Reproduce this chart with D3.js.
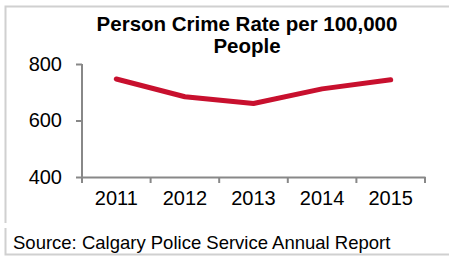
<!DOCTYPE html>
<html>
<head>
<meta charset="utf-8">
<script src="https://cdn.jsdelivr.net/npm/d3@7"></script>
<style>
  body { margin: 0; background: #fff; }
  svg { display: block; font-family: "Liberation Sans", Arial, sans-serif; }
</style>
</head>
<body>
<div id="chart"></div>
<script>
var years = ["2011", "2012", "2013", "2014", "2015"];
var rates = [747, 684, 660, 712, 744];
var yTicks = [400, 600, 800];
var titleLines = ["Person Crime Rate per 100,000", "People"];
var source = "Source: Calgary Police Service Annual Report";

var width = 449, height = 256;
var margin = { left: 82, right: 24, top: 64, bottom: 79 };

var svg = d3.select("#chart").append("svg").attr("width", width).attr("height", height);

// outer frame
svg.append("path")
    .attr("d", "M449,6.5H5.5V223")
    .attr("fill", "none").attr("stroke", "#d0d0d0").attr("stroke-width", 2);
svg.append("path")
    .attr("d", "M5.5,228V254.5H449")
    .attr("fill", "none").attr("stroke", "#d0d0d0").attr("stroke-width", 2);

var x = d3.scaleBand().domain(years).range([margin.left, width - margin.right]);
var y = d3.scaleLinear().domain([400, 800]).range([height - margin.bottom, margin.top]);

var yAxis = d3.axisLeft(y).tickValues(yTicks).tickSize(6).tickPadding(14);
var xAxis = d3.axisBottom(x).tickSize(0).tickPadding(14);

var gy = svg.append("g").attr("transform", "translate(" + margin.left + ",0)").call(yAxis);
var gx = svg.append("g").attr("transform", "translate(0," + (height - margin.bottom) + ")").call(xAxis);

[gx, gy].forEach(function(g) {
    g.select(".domain").attr("stroke", "#888").attr("stroke-width", 2);
    g.selectAll(".tick line").attr("stroke", "#888").attr("stroke-width", 2);
    g.selectAll("text").attr("font-size", 20).attr("fill", "#000")
        .attr("font-family", "'Liberation Sans', Arial, sans-serif");
});
gy.select(".domain").attr("d", "M0," + y(800) + "V" + y(400));

// x tick marks at band boundaries
var bounds = years.map(function(d) { return x(d); }).concat([x.range()[1]]);
gx.selectAll(".bound").data(bounds).enter().append("line")
    .attr("x1", function(d) { return d; }).attr("x2", function(d) { return d; })
    .attr("y1", 0).attr("y2", 6)
    .attr("stroke", "#888").attr("stroke-width", 2);

var line = d3.line()
    .x(function(d, i) { return x(years[i]) + x.bandwidth() / 2; })
    .y(function(d) { return y(d); });

svg.append("path").attr("d", line(rates))
    .attr("fill", "none").attr("stroke", "#c8102e").attr("stroke-width", 5)
    .attr("stroke-linecap", "round").attr("stroke-linejoin", "round");

svg.append("text")
    .attr("text-anchor", "middle").attr("font-weight", "bold").attr("font-size", 20.5)
    .selectAll("tspan").data(titleLines).enter().append("tspan")
    .attr("x", 247).attr("y", function(d, i) { return 31 + i * 22; })
    .text(function(d) { return d; });

svg.append("text").attr("x", 13).attr("y", 249).attr("font-size", 18.5)
    .text(source);
</script>
</body>
</html>
